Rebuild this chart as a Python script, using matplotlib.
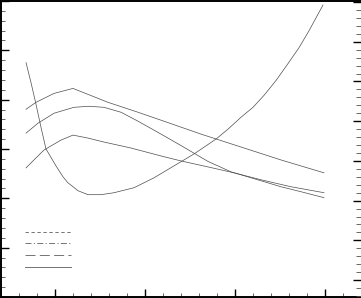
import matplotlib
matplotlib.use('Agg')
import matplotlib.pyplot as plt
from matplotlib.lines import Line2D
from matplotlib.ticker import MultipleLocator

plt.rcParams['lines.scale_dashes'] = False

# upper humped curve
x_b = [0.678, 0.789, 0.989, 1.2, 1.367, 1.589, 1.922, 2.178, 2.622, 3.067, 3.511, 3.989]
y_b = [3.805, 3.946, 4.127, 4.228, 4.107, 3.946, 3.745, 3.584, 3.302, 3.040, 2.778, 2.517]

# middle curve with flat top
x_c = [0.678, 0.811, 0.989, 1.211, 1.378, 1.544, 1.733, 1.922, 2.178, 2.4, 2.7, 2.956, 3.289, 3.511, 3.733, 3.989]
y_c = [3.322, 3.523, 3.725, 3.845, 3.866, 3.845, 3.745, 3.564, 3.302, 3.070, 2.748, 2.537, 2.356, 2.235, 2.134, 2.013]

# lower humped curve
x_d = [0.678, 0.789, 0.878, 1.067, 1.2, 1.367, 1.544, 1.844, 2.178, 2.4, 2.7, 2.989, 3.289, 3.622, 3.989]
y_d = [2.617, 2.819, 2.980, 3.181, 3.282, 3.221, 3.141, 3.020, 2.859, 2.758, 2.637, 2.517, 2.376, 2.235, 2.114]

# U shaped curve
x_u = [0.678, 0.733, 0.789, 0.844, 0.9, 0.933, 1.011, 1.089, 1.144, 1.2, 1.256, 1.367, 1.511,
       1.656, 1.878, 2.1, 2.322, 2.544, 2.789, 2.922, 3.067, 3.2, 3.322, 3.456, 3.589, 3.711,
       3.822, 3.978]
y_u = [4.751, 4.349, 3.906, 3.443, 3.0, 2.899, 2.658, 2.436, 2.315, 2.235, 2.154, 2.074, 2.074,
       2.114, 2.215, 2.416, 2.658, 2.899, 3.201, 3.402, 3.644, 3.845, 4.087, 4.389, 4.731, 5.053,
       5.396, 5.919]

line_color = '0.3'
line_width = 0.5
styles = [(0, (2.4, 1.9)), (0, (4.3, 1.7, 0.8, 1.7)), (0, (7.2, 3.1)), '-']

fig = plt.figure(figsize=(3.61, 2.98), dpi=100)
ax = fig.add_axes([1 / 361, 1 / 298, 360 / 361, 296 / 298])

for xs, ys in [(x_b, y_b), (x_c, y_c), (x_d, y_d), (x_u, y_u)]:
    ax.plot(xs, ys, color=line_color, lw=line_width)

ax.set_xlim(0.4, 4.4)
ax.set_ylim(0, 6)
ax.xaxis.set_major_locator(MultipleLocator(1))
ax.xaxis.set_minor_locator(MultipleLocator(0.2))
ax.yaxis.set_major_locator(MultipleLocator(1))
ax.yaxis.set_minor_locator(MultipleLocator(0.2))
ax.tick_params(which='both', direction='in', top=False, right=False,
               labelleft=False, labelbottom=False)
ax.tick_params(which='major', length=5.5, width=1.0)
ax.tick_params(which='minor', length=3, width=0.6, color='0.3')
for side in ['left', 'top', 'bottom']:
    ax.spines[side].set_linewidth(1.4)
ax.spines['right'].set_visible(False)

ax2 = ax.twinx()
ax2.set_ylim(-0.425, 7.025)
ax2.yaxis.set_major_locator(MultipleLocator(1))
ax2.yaxis.set_minor_locator(MultipleLocator(0.2))
ax2.tick_params(which='both', direction='in', labelright=False)
ax2.tick_params(which='major', length=5.5, width=1.0)
ax2.tick_params(which='minor', length=3.5, width=0.6, color='0.3')
for side in ax2.spines:
    ax2.spines[side].set_visible(False)

handles = [Line2D([], [], color='0.45', lw=0.7, ls=s) for s in styles]
ax.legend(handles, [''] * 4, loc='upper left', bbox_to_anchor=(24 / 360, 69.5 / 296),
          frameon=False, fontsize=6, handlelength=5.5, labelspacing=0.33,
          borderpad=0, borderaxespad=0, handletextpad=0)

fig.savefig('out.png', dpi=100)
